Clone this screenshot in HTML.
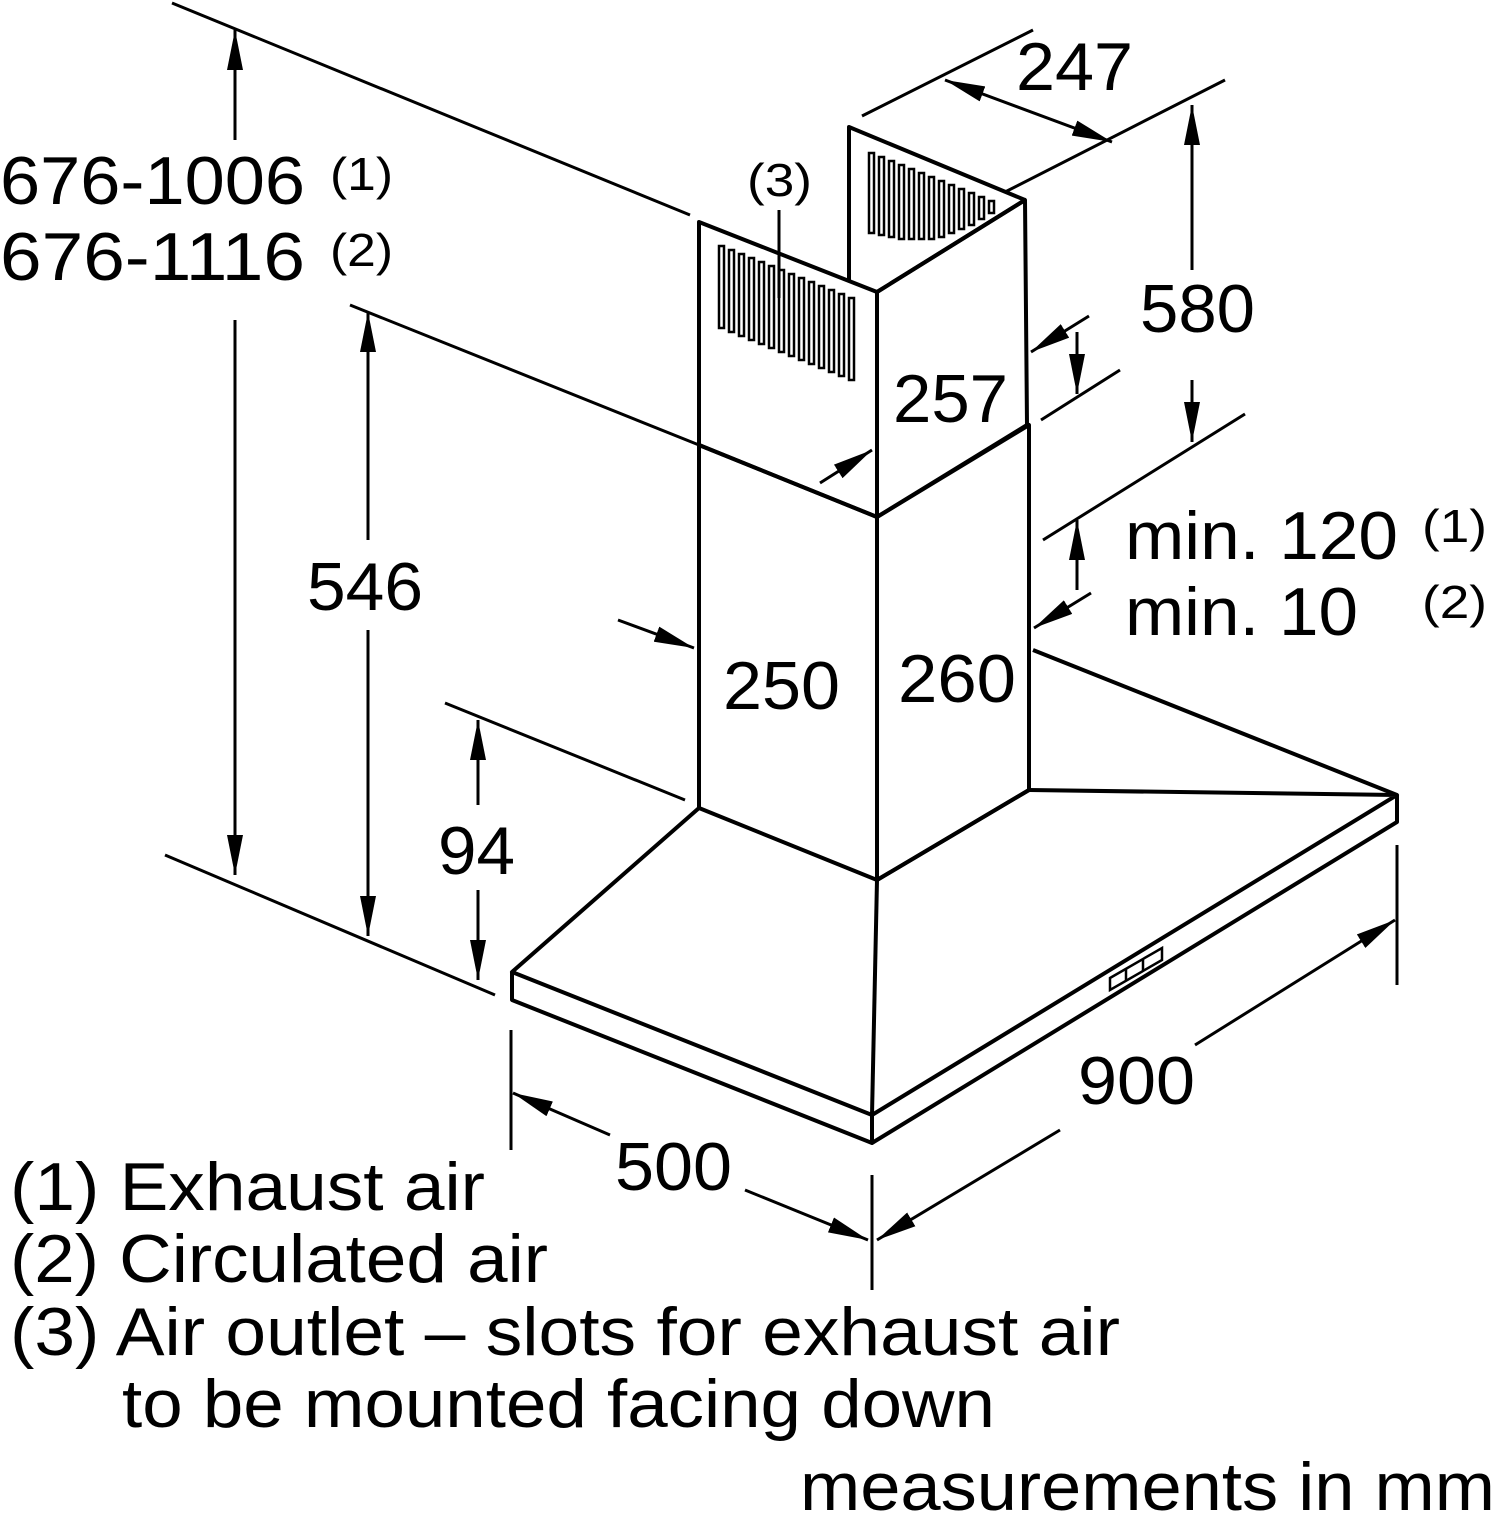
<!DOCTYPE html>
<html><head><meta charset="utf-8"><style>
html,body{margin:0;padding:0;background:#fff}
svg{display:block}
text{font-family:"Liberation Sans",sans-serif;fill:#000}
.big{font-size:68px}
.sm{font-size:46px}
</style></head><body>
<svg width="1500" height="1519" viewBox="0 0 1500 1519" xmlns="http://www.w3.org/2000/svg">
<defs>
<marker id="a" viewBox="0 0 40 16" refX="40" refY="8" markerWidth="40" markerHeight="16" markerUnits="userSpaceOnUse" orient="auto-start-reverse">
<path d="M0,0 L40,8 L0,16 Z" fill="#000"/></marker>
</defs>
<g stroke="#000" stroke-width="4" fill="none" stroke-linejoin="round">
<polyline points="849,282 849,127 1025,200"/>
<polygon points="699,222 877,292 1025,200 1027,425 877,517 699,445" fill="#fff"/>
<line x1="877" y1="292" x2="877" y2="517"/>
<polygon points="699,445 877,517 1029,425 1029,790 877,880 699,808"/>
<line x1="877" y1="517" x2="877" y2="880"/>
<polyline points="699,808 512,972 872,1115 1397,795 1029,790"/>
<line x1="877" y1="880" x2="872" y2="1115"/>
<line x1="877" y1="880" x2="1029" y2="790"/>
<line x1="1033" y1="650" x2="1397" y2="795"/>
<polyline points="512,972 512,1000 872,1143 1397,822 1397,795"/>
<line x1="872" y1="1115" x2="872" y2="1143"/>
</g>
<g stroke="#000" stroke-width="2.5" fill="none">
<polygon points="1110,978 1162,948 1162,960 1110,990"/>
<line x1="1126" y1="969" x2="1126" y2="981"/><line x1="1143" y1="959" x2="1143" y2="971"/>
</g>
<g stroke="#000" stroke-width="2.5" fill="#fff">
<rect x="719" y="246" width="5" height="82"/><rect x="729" y="250" width="5" height="82"/><rect x="739" y="254" width="5" height="82"/><rect x="749" y="258" width="5" height="82"/><rect x="759" y="262" width="5" height="82"/><rect x="769" y="266" width="5" height="82"/><rect x="779" y="270" width="5" height="82"/><rect x="789" y="274" width="5" height="82"/><rect x="799" y="278" width="5" height="82"/><rect x="809" y="282" width="5" height="82"/><rect x="819" y="286" width="5" height="82"/><rect x="829" y="290" width="5" height="82"/><rect x="839" y="294" width="5" height="82"/><rect x="849" y="298" width="5" height="82"/>
</g>
<g stroke="#000" stroke-width="2.5" fill="#fff">
<rect x="869" y="153" width="5" height="80"/><rect x="879" y="157" width="5" height="78"/><rect x="889" y="161" width="5" height="76"/><rect x="899" y="165" width="5" height="74"/><rect x="909" y="169" width="5" height="70"/><rect x="919" y="173" width="5" height="66"/><rect x="929" y="177" width="5" height="62"/><rect x="939" y="181" width="5" height="56"/><rect x="949" y="185" width="5" height="48"/><rect x="959" y="189" width="5" height="40"/><rect x="969" y="193" width="5" height="32"/><rect x="979" y="197" width="5" height="22"/><rect x="989" y="201" width="5" height="12"/>
</g>
<line x1="877" y1="292" x2="1025" y2="200" stroke="#000" stroke-width="4"/>
<g stroke="#000" stroke-width="3" fill="none">
<line x1="172" y1="3" x2="690" y2="215"/>
<line x1="165" y1="855" x2="495" y2="995"/>
<line x1="350" y1="305" x2="699" y2="445"/>
<line x1="445" y1="703" x2="685" y2="800"/>
<line x1="235" y1="140" x2="235" y2="30" marker-end="url(#a)"/>
<line x1="235" y1="320" x2="235" y2="875" marker-end="url(#a)"/>
<line x1="368" y1="540" x2="368" y2="312" marker-end="url(#a)"/>
<line x1="368" y1="630" x2="368" y2="936" marker-end="url(#a)"/>
<line x1="478" y1="805" x2="478" y2="720" marker-end="url(#a)"/>
<line x1="478" y1="890" x2="478" y2="980" marker-end="url(#a)"/>
<line x1="862" y1="116" x2="1033" y2="30"/>
<line x1="1005" y1="192" x2="1225" y2="80"/>
<line x1="945" y1="80" x2="1112" y2="142" marker-start="url(#a)" marker-end="url(#a)"/>
<line x1="1192" y1="270" x2="1192" y2="105" marker-end="url(#a)"/>
<line x1="1192" y1="380" x2="1192" y2="442" marker-end="url(#a)"/>
<line x1="1041" y1="420" x2="1120" y2="370"/>
<line x1="1043" y1="540" x2="1245" y2="414"/>
<line x1="1089" y1="316" x2="1031" y2="352" marker-end="url(#a)"/>
<line x1="1077" y1="332" x2="1077" y2="394" marker-end="url(#a)"/>
<line x1="1077" y1="590" x2="1077" y2="520" marker-end="url(#a)"/>
<line x1="1091" y1="593" x2="1034" y2="628" marker-end="url(#a)"/>
<line x1="820" y1="483" x2="872" y2="450" marker-end="url(#a)"/>
<line x1="618" y1="620" x2="694" y2="648" marker-end="url(#a)"/>
<line x1="1397" y1="845" x2="1397" y2="985"/>
<line x1="1195" y1="1045" x2="1395" y2="920" marker-end="url(#a)"/>
<line x1="1060" y1="1130" x2="877" y2="1240" marker-end="url(#a)"/>
<line x1="511" y1="1030" x2="511" y2="1150"/>
<line x1="872" y1="1175" x2="872" y2="1290"/>
<line x1="610" y1="1135" x2="513" y2="1093" marker-end="url(#a)"/>
<line x1="745" y1="1190" x2="868" y2="1240" marker-end="url(#a)"/>
<line x1="779" y1="210" x2="779" y2="298" stroke-width="3"/>
</g>
<g lengthAdjust="spacingAndGlyphs">
<text class="big" x="0" y="204" textLength="305" lengthAdjust="spacingAndGlyphs">676-1006</text>
<text class="sm" x="330" y="190" textLength="63" lengthAdjust="spacingAndGlyphs">(1)</text>
<text class="big" x="0" y="280" textLength="305" lengthAdjust="spacingAndGlyphs">676-1116</text>
<text class="sm" x="330" y="266" textLength="63" lengthAdjust="spacingAndGlyphs">(2)</text>
<text class="sm" x="747" y="196" textLength="65" lengthAdjust="spacingAndGlyphs">(3)</text>
<text class="big" x="1016" y="90" textLength="117" lengthAdjust="spacingAndGlyphs">247</text>
<text class="big" x="1140" y="332" textLength="115" lengthAdjust="spacingAndGlyphs">580</text>
<text class="big" x="893" y="422" textLength="115" lengthAdjust="spacingAndGlyphs">257</text>
<text class="big" x="307" y="610" textLength="116" lengthAdjust="spacingAndGlyphs">546</text>
<text class="big" x="723" y="709" textLength="117" lengthAdjust="spacingAndGlyphs">250</text>
<text class="big" x="898" y="702" textLength="118" lengthAdjust="spacingAndGlyphs">260</text>
<text class="big" x="438" y="874" textLength="77" lengthAdjust="spacingAndGlyphs">94</text>
<text class="big" x="1125" y="559" textLength="273" lengthAdjust="spacingAndGlyphs">min. 120</text>
<text class="sm" x="1422" y="542" textLength="65" lengthAdjust="spacingAndGlyphs">(1)</text>
<text class="big" x="1125" y="635" textLength="233" lengthAdjust="spacingAndGlyphs">min. 10</text>
<text class="sm" x="1422" y="618" textLength="65" lengthAdjust="spacingAndGlyphs">(2)</text>
<text class="big" x="1078" y="1104" textLength="117" lengthAdjust="spacingAndGlyphs">900</text>
<text class="big" x="615" y="1190" textLength="117" lengthAdjust="spacingAndGlyphs">500</text>
<text class="big" x="10" y="1210" textLength="475" lengthAdjust="spacingAndGlyphs">(1) Exhaust air</text>
<text class="big" x="10" y="1282" textLength="538" lengthAdjust="spacingAndGlyphs">(2) Circulated air</text>
<text class="big" x="10" y="1355" textLength="1110" lengthAdjust="spacingAndGlyphs">(3) Air outlet – slots for exhaust air</text>
<text class="big" x="122" y="1427" textLength="873" lengthAdjust="spacingAndGlyphs">to be mounted facing down</text>
<text class="big" x="800" y="1510" textLength="695" lengthAdjust="spacingAndGlyphs">measurements in mm</text>
</g>
</svg>
</body></html>
